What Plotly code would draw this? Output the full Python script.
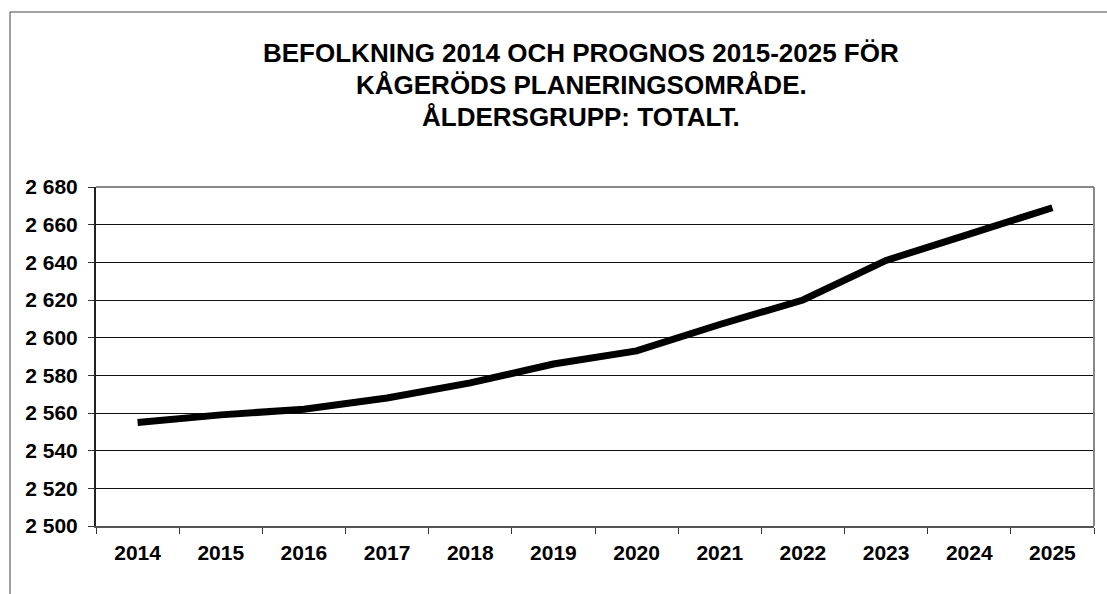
import plotly.graph_objects as go

years = ["2014", "2015", "2016", "2017", "2018", "2019", "2020", "2021", "2022", "2023", "2024", "2025"]
population = [2555, 2559, 2562, 2568, 2576, 2586, 2593, 2607, 2620, 2641, 2655, 2669]
y_tick_vals = [2500, 2520, 2540, 2560, 2580, 2600, 2620, 2640, 2660, 2680]
y_tick_text = ["2 500", "2 520", "2 540", "2 560", "2 580", "2 600", "2 620", "2 640", "2 660", "2 680"]
title_lines = [
    "BEFOLKNING 2014 OCH PROGNOS 2015-2025 FÖR",
    "KÅGERÖDS PLANERINGSOMRÅDE.",
    "ÅLDERSGRUPP: TOTALT.",
]

W, H = 1107, 594
L, R, T, B = 96, 13, 187, 68
pw, ph = W - L - R, H - T - B

def px_x(x):
    return (x - L) / pw

def px_y(y):
    return (H - B - y) / ph

FONT = "Liberation Sans, Arial, sans-serif"

fig = go.Figure()
fig.add_trace(go.Scatter(
    x=years, y=population, mode="lines",
    line=dict(color="black", width=7, shape="linear"),
    hoverinfo="skip", showlegend=False,
))

annotations = []
title_y = [53, 85, 117]
for txt, yy in zip(title_lines, title_y):
    annotations.append(dict(
        text=txt, x=px_x(581), y=px_y(yy), xref="paper", yref="paper",
        xanchor="center", yanchor="middle", showarrow=False,
        font=dict(family=FONT, size=26, color="black", weight="bold"),
    ))

shapes = [
    # outer chart border
    dict(type="rect", xref="paper", yref="paper",
         x0=px_x(10), x1=px_x(1120), y0=px_y(620), y1=px_y(12),
         line=dict(color="#444444", width=1), fillcolor="rgba(0,0,0,0)", layer="below"),
    # plot area border (top and right in gray)
    dict(type="line", xref="paper", yref="paper", x0=0, x1=1, y0=1, y1=1,
         line=dict(color="#888888", width=2)),
    dict(type="line", xref="paper", yref="paper", x0=1, x1=1, y0=0, y1=1,
         line=dict(color="#888888", width=2)),
]

fig.update_layout(
    width=W, height=H,
    margin=dict(l=L, r=R, t=T, b=B, pad=0),
    paper_bgcolor="white", plot_bgcolor="white",
    font=dict(family=FONT, color="black"),
    annotations=annotations,
    shapes=shapes,
    showlegend=False,
    xaxis=dict(
        type="category", tickson="boundaries", ticks="outside", ticklen=6,
        tickcolor="#333333", tickwidth=1,
        showgrid=False, showline=True, linecolor="#555555", linewidth=2,
        tickfont=dict(family=FONT, size=21, color="black", weight="bold"),
        ticklabelstandoff=7, range=[-0.5, 11.5], fixedrange=True,
    ),
    yaxis=dict(
        range=[2500, 2680], tickvals=y_tick_vals, ticktext=y_tick_text,
        ticks="outside", ticklen=6, tickcolor="#333333", tickwidth=1,
        showgrid=True, gridcolor="#111111", gridwidth=1,
        showline=True, linecolor="#222222", linewidth=2,
        tickfont=dict(family=FONT, size=21, color="black", weight="bold"),
        ticklabelstandoff=6, zeroline=False, fixedrange=True,
    ),
)

fig.write_html("out.html", config={"displayModeBar": False},
               post_script="document.body.style.margin='0';")
